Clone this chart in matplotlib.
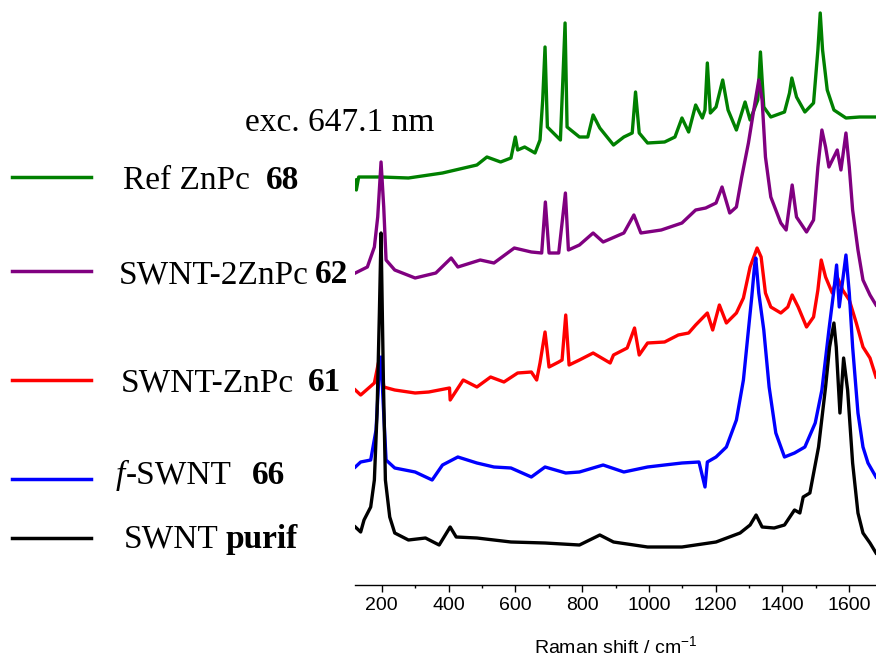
import matplotlib
matplotlib.use("Agg")
import matplotlib.pyplot as plt
from matplotlib.lines import Line2D
from matplotlib.ticker import MultipleLocator

plt.rcParams['mathtext.default'] = 'regular'

# Raman spectra, exc. 647.1 nm (stacked, arbitrary units)
ref_wn = [121, 124, 131, 198, 280, 382, 485, 515, 556, 587, 600, 607, 628, 659, 674, 682, 689, 696,
          720, 735, 742, 749, 755, 792, 817, 833, 853, 894, 925, 950, 960, 971, 996, 1047, 1078, 1099,
          1119, 1140, 1160, 1168, 1175, 1184, 1201, 1221, 1237, 1262, 1288, 1303, 1326, 1334, 1344,
          1365, 1406, 1421, 1428, 1442, 1467, 1493, 1506, 1513, 1520, 1534, 1554, 1590, 1631, 1680]
ref_int = [405, 395, 408, 408, 407, 412, 420, 428, 423, 427, 448, 435, 438, 432, 445, 485, 538, 458,
           450, 445, 502, 562, 458, 448, 448, 470, 457, 440, 448, 452, 493, 452, 442, 443, 448, 467,
           453, 480, 467, 475, 522, 472, 478, 505, 475, 455, 483, 465, 485, 533, 478,
           468, 473, 492, 507, 488, 473, 482, 535, 572, 535, 495, 475, 467, 468, 468]

znpc2_wn = [121, 157, 178, 188, 198, 206, 213, 239, 300, 362, 408, 428, 495, 536, 597, 648, 679, 690,
            701, 730, 750, 759, 792, 833, 863, 925, 955, 976, 1037, 1099, 1140, 1170, 1201, 1219, 1242,
            1262, 1278, 1298, 1314, 1329, 1339, 1349, 1365, 1395, 1411, 1429, 1442, 1472, 1493, 1506,
            1518, 1529, 1539, 1564, 1575, 1590, 1600, 1610, 1626, 1641, 1662, 1680]
znpc2_int = [312, 318, 338, 368, 423, 378, 325, 315, 307, 312, 327, 318, 325, 322, 337, 333, 332, 383,
             332, 332, 392, 335, 340, 352, 343, 352, 370, 352, 355, 362, 375, 377, 382, 398, 372,
             378, 408, 442, 475, 505, 485, 428, 388, 362, 355, 400, 368, 353, 365, 418,
             455, 438, 418, 435, 415, 452, 418, 375, 335, 305, 290, 280]

znpc_wn = [121, 137, 178, 190, 198, 206, 239, 300, 341, 403, 405, 444, 485, 526, 566, 607, 648, 664,
           674, 689, 701, 730, 740, 751, 761, 792, 833, 884, 894, 935, 957, 971, 996, 1047, 1088, 1119,
           1140, 1175, 1191, 1211, 1232, 1262, 1283, 1303, 1324, 1336, 1349, 1365, 1395, 1416, 1429,
           1447, 1472, 1493, 1506, 1516, 1529, 1549, 1564, 1580, 1600, 1621, 1641, 1662, 1680]
znpc_int = [195, 190, 202, 222, 227, 198, 195, 192, 193, 197, 185, 205, 198, 208, 203, 212, 213, 205,
            222, 253, 218, 223, 225, 270, 220, 225, 232, 222, 230, 237, 257, 230, 242, 243, 250, 252,
            260, 272, 255, 280, 262, 272, 287, 318, 337, 328, 292, 278, 272, 278, 290,
            278, 258, 268, 295, 325, 308, 292, 308, 295, 285, 262, 238, 227, 208]

fswnt_wn = [121, 137, 167, 183, 191, 198, 205, 213, 239, 300, 351, 382, 428, 485, 536, 587, 648, 689,
            751, 792, 863, 925, 996, 1047, 1099, 1150, 1168, 1175, 1201, 1232, 1262, 1283, 1298, 1308,
            1316, 1320, 1329, 1344, 1360, 1380, 1406, 1436, 1467, 1498, 1518, 1539, 1554, 1562, 1570,
            1590, 1600, 1610, 1626, 1641, 1656, 1680]
fswnt_int = [118, 123, 125, 155, 205, 228, 178, 125, 117, 113, 105, 120, 128, 122, 118, 117, 108, 118,
             112, 113, 120, 113, 118, 120, 122, 123, 98, 123, 128, 138, 165, 205, 255, 288,
             318, 327, 292, 255, 198, 152, 128, 132, 138, 162, 195, 255, 295, 320, 278,
             330, 292, 238, 172, 138, 122, 108]

purif_wn = [121, 137, 147, 167, 178, 186, 193, 198, 205, 211, 224, 239, 280, 331, 372, 405, 423, 485,
            587, 689, 792, 853, 894, 996, 1099, 1201, 1273, 1303, 1321, 1339, 1375, 1406, 1436, 1452,
            1462, 1482, 1508, 1529, 1541, 1554, 1561, 1572, 1583, 1595, 1610, 1626, 1641, 1662, 1680]
purif_int = [58, 53, 65, 78, 105, 172, 272, 352, 205, 105, 68, 52, 45, 47, 40, 58, 48, 47,
             43, 42, 40, 50, 43, 38, 38, 43, 52, 60, 70, 58, 57, 60, 75, 72,
             88, 92, 138, 198, 238, 262, 238, 172, 227, 195, 122, 72, 52, 42, 32]

series = [
    (ref_wn, ref_int, '#008000'),
    (znpc2_wn, znpc2_int, '#800080'),
    (znpc_wn, znpc_int, '#ff0000'),
    (fswnt_wn, fswnt_int, '#0000ff'),
    (purif_wn, purif_int, '#000000'),
]

W, H = 876, 663
fig = plt.figure(figsize=(W / 100, H / 100), dpi=100)
ax = fig.add_axes([355 / W, 1 - 585 / H, 1 - 355 / W, 585 / H])

for x, y, c in series:
    ax.plot(x, y, color=c, lw=2.4)

ax.set_xlim(120, 1680)
ax.set_ylim(0, 585)
for s in ['left', 'right', 'top']:
    ax.spines[s].set_visible(False)
ax.spines['bottom'].set_linewidth(1.0)
ax.set_yticks([])
ax.xaxis.set_major_locator(MultipleLocator(200))
ax.xaxis.set_minor_locator(MultipleLocator(100))
ax.tick_params(axis='x', which='major', length=5, width=1.0, pad=4, labelsize=14)
ax.tick_params(axis='x', which='minor', length=2.5, width=1.0)
for lab in ax.get_xticklabels():
    lab.set_family('Liberation Sans')
ax.set_xlabel('Raman shift / cm$^{-1}$', fontsize=14, family='Liberation Sans', labelpad=15)
ax.patch.set_visible(False)


def fx(px):
    return px / W


def fy(py):
    return 1 - py / H


serif = 'Liberation Serif'
fs = 24

# legend drawn by hand on the left
legend_rows = [
    (177, '#008000', [(123, 'Ref ZnPc', 'normal', 'normal'), (266, '68', 'bold', 'normal')], 189),
    (271, '#800080', [(119, 'SWNT-2ZnPc', 'normal', 'normal'), (315, '62', 'bold', 'normal')], 283),
    (380, '#ff0000', [(121, 'SWNT-ZnPc', 'normal', 'normal'), (308, '61', 'bold', 'normal')], 391),
    (479, '#0000ff', [(116, 'f', 'normal', 'italic'), (126, '-SWNT', 'normal', 'normal'),
                      (252, '66', 'bold', 'normal')], 484),
    (538, '#000000', [(124, 'SWNT', 'normal', 'normal'), (225, 'purif', 'bold', 'normal')], 548),
]
for ly, col, parts, base in legend_rows:
    fig.add_artist(Line2D([fx(12), fx(91)], [fy(ly), fy(ly)], transform=fig.transFigure,
                          color=col, lw=2.5))
    for px, txt, wt, st in parts:
        fig.text(fx(px), fy(base), txt, fontsize=fs, family=serif, weight=wt, style=st,
                 va='baseline', ha='left')

fig.text(fx(245), fy(131), 'exc. 647.1 nm', fontsize=fs, family=serif, va='baseline', ha='left')

fig.savefig('out.png', dpi=100)
